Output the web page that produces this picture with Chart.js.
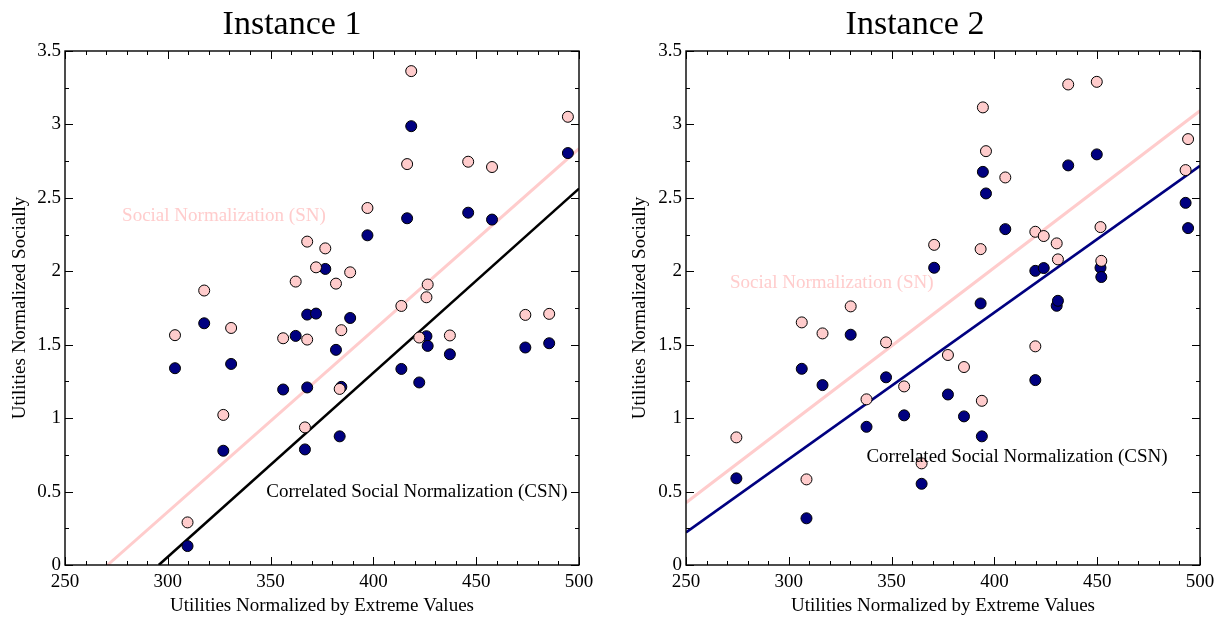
<!DOCTYPE html>
<html>
<head>
<meta charset="utf-8">
<script src="https://cdn.jsdelivr.net/npm/chart.js@4.4.0/dist/chart.umd.min.js"></script>
<style>
  body { margin: 0; background: #fff; overflow: hidden; }
  #wrap { position: relative; width: 1214px; height: 619px; overflow: hidden; }
  canvas { position: absolute; top: 0; }
</style>
</head>
<body>
<div id="wrap">
  <canvas id="chart1" width="600" height="619" style="left:5px"></canvas>
  <canvas id="chart2" width="584" height="619" style="left:630px"></canvas>
</div>
<script>
// tick labels
const xTicks = [250, 300, 350, 400, 450, 500];
const yTicks = [0, 0.5, 1, 1.5, 2, 2.5, 3, 3.5];

// Instance 1 : x = utilities normalized by extreme values
const inst1X = [303.5, 309.6, 317.7, 327.0, 330.8, 356.1, 362.2, 366.7, 367.8, 367.8, 372.1, 376.6, 381.8, 384.4, 383.6,
  388.7, 397.1, 413.6, 416.4, 418.4, 422.3, 425.8, 426.4, 437.2, 446.1, 457.7, 473.9, 485.5, 494.6];
const inst1SN = [1.565, 0.29, 1.869, 1.022, 1.614, 1.544, 1.930, 0.937, 2.202, 1.535, 2.027, 2.156, 1.916, 1.599, 1.199,
  1.993, 2.431, 1.764, 2.730, 3.363, 1.549, 1.823, 1.910, 1.563, 2.746, 2.710, 1.703, 1.710, 3.052];
const inst1CSN = [1.340, 0.129, 1.646, 0.778, 1.369, 1.195, 1.560, 0.787, 1.705, 1.209, 1.712, 2.016, 1.465, 1.213, 0.876,
  1.682, 2.245, 1.335, 2.361, 2.988, 1.243, 1.558, 1.492, 1.435, 2.399, 2.352, 1.481, 1.510, 2.805];
// fitted lines (x, y) end points
const inst1SNFit = [[270.7, 0], [500, 2.835]];
const inst1CSNFit = [[295.6, 0], [500, 2.563]];

// Instance 2
const inst2X = [274.5, 306.3, 308.6, 316.4, 330.1, 337.8, 347.3, 356.1, 364.6, 370.7, 377.4, 385.2, 393.3, 393.9,
  394.4, 395.9, 405.3, 419.9, 419.9, 424.0, 430.3, 430.9, 435.9, 449.8, 451.6, 452.0, 493.0, 494.2];
const inst2SN = [0.869, 1.652, 0.583, 1.577, 1.761, 1.128, 1.516, 1.216, 0.692, 2.180, 1.430, 1.348, 2.151, 1.118,
  3.116, 2.818, 2.639, 2.269, 1.489, 2.240, 2.190, 2.081, 3.272, 3.290, 2.301, 2.071, 2.689, 2.900];
const inst2CSN = [0.590, 1.336, 0.318, 1.225, 1.568, 0.941, 1.278, 1.019, 0.553, 2.024, 1.161, 1.012, 1.781, 0.876,
  2.677, 2.530, 2.287, 2.003, 1.259, 2.022, 1.765, 1.799, 2.721, 2.796, 2.024, 1.961, 2.466, 2.294];
const inst2SNFit = [[250, 0.424], [500, 3.093]];
const inst2CSNFit = [[250, 0.222], [500, 2.718]];

Chart.defaults.font.family = "'Liberation Serif', 'Times New Roman', serif";
Chart.defaults.color = '#000';

const PINK = 'rgb(255,204,204)';
const NAVY = '#000080';

// frame + inward tick marks on all four sides
const frameTicks = {
  id: 'frameTicks',
  afterDraw(chart) {
    const { ctx, chartArea: a, scales: { x, y } } = chart;
    ctx.save();
    ctx.strokeStyle = '#000';
    ctx.lineWidth = 1.4;
    ctx.strokeRect(a.left, a.top, a.right - a.left, a.bottom - a.top);
    ctx.lineWidth = 1;
    ctx.beginPath();
    for (let v = 250; v <= 500; v += 10) {
      const px = Math.round(x.getPixelForValue(v)) + 0.5;
      const len = v % 50 === 0 ? 8 : 4;
      ctx.moveTo(px, a.bottom); ctx.lineTo(px, a.bottom - len);
      ctx.moveTo(px, a.top); ctx.lineTo(px, a.top + len);
    }
    for (let k = 0; k <= 14; k++) {
      const py = Math.round(y.getPixelForValue(k * 0.25)) + 0.5;
      const len = k % 2 === 0 ? 8 : 4;
      ctx.moveTo(a.left, py); ctx.lineTo(a.left + len, py);
      ctx.moveTo(a.right, py); ctx.lineTo(a.right - len, py);
    }
    ctx.stroke();
    ctx.restore();
  }
};

// text labels placed in data coordinates
const notes = {
  id: 'notes',
  afterDatasetsDraw(chart, args, opts) {
    const { ctx, scales: { x, y } } = chart;
    ctx.save();
    ctx.font = "19px 'Liberation Serif', serif";
    ctx.textAlign = 'center';
    ctx.textBaseline = 'middle';
    opts.items.forEach(n => {
      ctx.fillStyle = n.color;
      ctx.fillText(n.text, x.getPixelForValue(n.x), y.getPixelForValue(n.y));
    });
    ctx.restore();
  }
};

function makeChart(id, title, xs, sn, csn, snFit, csnFit, csnColor, padRight, yWidth, yTitlePad, items) {
  const pts = ys => xs.map((v, i) => ({ x: v, y: ys[i] }));
  const line = f => f.map(p => ({ x: p[0], y: p[1] }));
  return new Chart(document.getElementById(id), {
    type: 'scatter',
    data: {
      datasets: [
        { data: pts(sn), backgroundColor: PINK, borderColor: '#000', borderWidth: 1, pointRadius: 5.5, order: 1 },
        { data: pts(csn), backgroundColor: NAVY, borderColor: '#000', borderWidth: 1, pointRadius: 5.5, order: 2 },
        { type: 'line', data: line(snFit), borderColor: PINK, borderWidth: 3, pointRadius: 0, order: 3 },
        { type: 'line', data: line(csnFit), borderColor: csnColor, borderWidth: 2.6, pointRadius: 0, order: 3 }
      ]
    },
    options: {
      responsive: false,
      animation: false,
      events: [],
      layout: { autoPadding: false, padding: { left: 0, right: padRight, top: 0, bottom: 0 } },
      plugins: {
        legend: { display: false },
        tooltip: { enabled: false },
        title: {
          display: true,
          text: title,
          font: { size: 34, weight: 'normal' },
          padding: { top: 5, bottom: 5.2 }
        },
        notes: { items: items }
      },
      scales: {
        x: {
          type: 'linear', min: 250, max: 500,
          grid: { display: false, drawTicks: false },
          border: { display: false },
          afterBuildTicks: s => { s.ticks = xTicks.map(v => ({ value: v })); },
          afterFit: s => { s.height = 54; s.paddingLeft = 0; s.paddingRight = 0; },
          ticks: { font: { size: 19 }, padding: 6, maxRotation: 0, callback: v => String(v) },
          title: { display: true, text: 'Utilities Normalized by Extreme Values', font: { size: 19 }, padding: { top: 0, bottom: 2 } }
        },
        y: {
          type: 'linear', min: 0, max: 3.5,
          grid: { display: false, drawTicks: false },
          border: { display: false },
          afterBuildTicks: s => { s.ticks = yTicks.map(v => ({ value: v })); },
          afterFit: s => { s.width = yWidth; s.paddingTop = 0; s.paddingBottom = 0; },
          ticks: { font: { size: 19 }, padding: 4, callback: v => String(v) },
          title: { display: true, text: 'Utilities Normalized Socially', font: { size: 19, lineHeight: 1 }, padding: { top: yTitlePad, bottom: 0 } }
        }
      }
    },
    plugins: [frameTicks, notes]
  });
}

makeChart('chart1', 'Instance 1', inst1X, inst1SN, inst1CSN, inst1SNFit, inst1CSNFit, '#000', 26, 60, 5.5, [
  { text: 'Social Normalization (SN)', x: 327.3, y: 2.376, color: PINK },
  { text: 'Correlated Social Normalization (CSN)', x: 421.2, y: 0.497, color: '#000' }
]);
makeChart('chart2', 'Instance 2', inst2X, inst2SN, inst2CSN, inst2SNFit, inst2CSNFit, NAVY, 14, 56, 0.5, [
  { text: 'Social Normalization (SN)', x: 320.9, y: 1.92, color: PINK },
  { text: 'Correlated Social Normalization (CSN)', x: 411.0, y: 0.735, color: '#000' }
]);
</script>
</body>
</html>
